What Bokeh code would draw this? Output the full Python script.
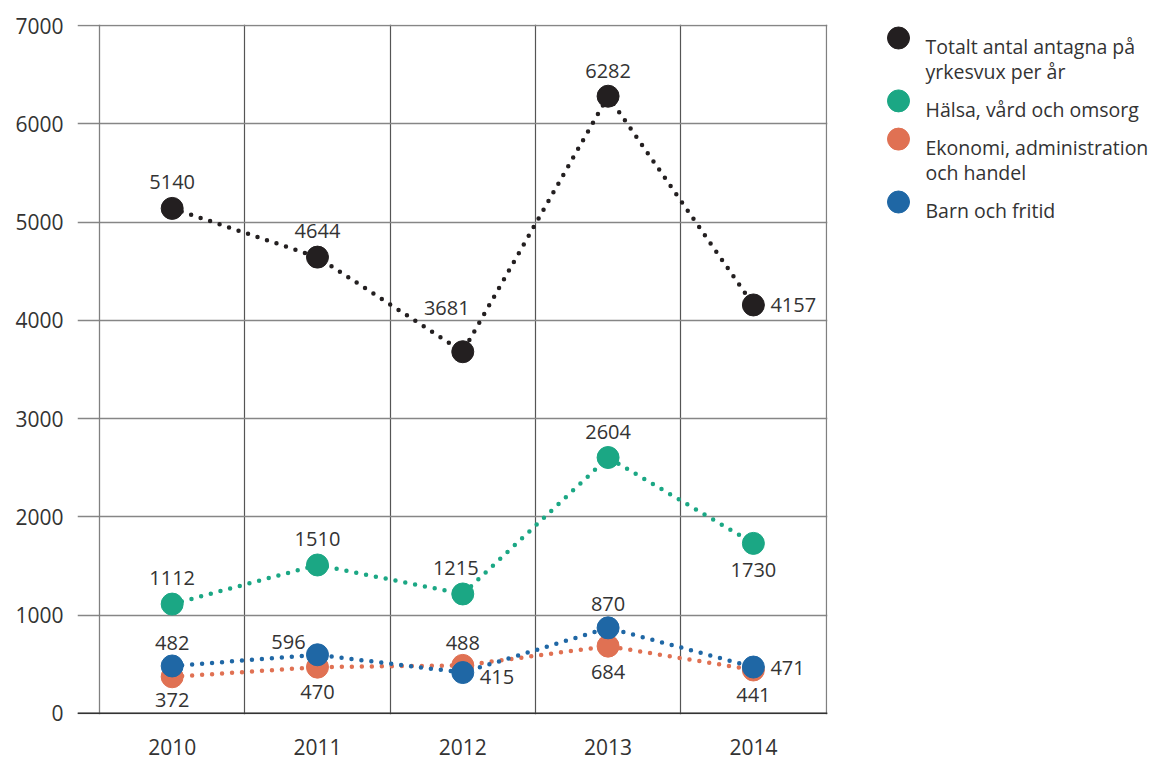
from bokeh.plotting import figure
from bokeh.models import Range1d, FixedTicker, Span, ColumnDataSource, Grid
from bokeh.layouts import row
from bokeh.embed import file_html
from bokeh.resources import INLINE
from bokeh.core.properties import value

# ---------------- data ----------------
years = ["2010", "2011", "2012", "2013", "2014"]
y_ticks = [0, 1000, 2000, 3000, 4000, 5000, 6000, 7000]

series_names = [
    "Totalt antal antagna på\nyrkesvux per år",
    "Hälsa, vård och omsorg",
    "Ekonomi, administration\noch handel",
    "Barn och fritid",
]
totalt = [5140, 4644, 3681, 6282, 4157]
halsa = [1112, 1510, 1215, 2604, 1730]
ekonomi = [372, 470, 488, 684, 441]
barn = [482, 596, 415, 870, 471]

# ---------------- styles ----------------
colors = ["#231f20", "#1ba784", "#e07153", "#1f67a5"]
FONT = "Open Sans"
TXT = "#333333"
# label placement per point (dx, dy in px, align); not data
label_pos = [
    [(0, -26, "center"), (0, -26, "center"), (-16, -44, "center"), (0, -25, "center"), (17, 0, "left")],
    [(0, -26, "center"), (0, -26, "center"), (-7, -26, "center"), (0, -26, "center"), (0, 27, "center")],
    [(0, 23, "center"), (0, 25, "center"), (0, -22, "center"), (0, 26, "center"), (0, 25, "center")],
    [(0, -23, "center"), (-29, -13, "center"), (17, 4, "left"), (0, -24, "center"), (17, 1, "left")],
]

xs = [i + 0.5 for i in range(len(years))]
all_series = [totalt, halsa, ekonomi, barn]

TOP, BOTTOM, H = 24, 46, 760

p = figure(width=832, height=H, title=None,
           x_range=Range1d(-0.1515, 5.01), y_range=Range1d(-12, 7012),
           output_backend="svg", toolbar_location=None,
           min_border_left=77, min_border_right=5, min_border_top=TOP, min_border_bottom=BOTTOM)
p.outline_line_color = None
p.background_fill_color = "white"
p.border_fill_color = "white"

p.xaxis.ticker = FixedTicker(ticks=xs)
p.xaxis.major_label_overrides = {x: y for x, y in zip(xs, years)}
p.yaxis.ticker = FixedTicker(ticks=y_ticks)
for ax in (p.xaxis[0], p.yaxis[0]):
    ax.axis_line_color = None
    ax.major_tick_line_color = None
    ax.minor_tick_line_color = None
    ax.major_tick_out = 0
    ax.major_tick_in = 0
    ax.minor_tick_out = 0
    ax.major_label_text_font = FONT
    ax.major_label_text_font_size = "21px"
    ax.major_label_text_color = TXT
p.xaxis.major_label_standoff = 24
p.yaxis.major_label_standoff = 14

# inner category separators darker, frame edges and horizontal lines lighter
p.xgrid.ticker = FixedTicker(ticks=list(range(1, len(years))))
p.xgrid.grid_line_color = "#555555"
p.xgrid.grid_line_width = 1.2
p.add_layout(Grid(dimension=0, ticker=FixedTicker(ticks=[0, len(years)]),
                  grid_line_color="#808080", grid_line_width=1.3))
p.ygrid.ticker = FixedTicker(ticks=y_ticks)
p.ygrid.grid_line_color = "#868686"
p.ygrid.grid_line_width = 1.3
p.add_layout(Span(location=0, dimension="width", line_color="#333333", line_width=1.6))

for vals, c in zip(all_series, colors):
    p.line(xs, vals, line_color=c, line_width=4.5, line_dash="0 10", line_cap="round")

for vals, c, pos in zip(all_series, colors, label_pos):
    p.scatter(xs, vals, size=22, fill_color=c, line_color=c)
    src = ColumnDataSource(dict(
        x=xs, y=vals, t=[str(v) for v in vals],
        dx=[q[0] for q in pos], dy=[q[1] for q in pos], al=[q[2] for q in pos]))
    p.text("x", "y", text="t", source=src, x_offset="dx", y_offset="dy",
           text_align="al", text_baseline="middle",
           text_font=value(FONT), text_font_size="20px", text_color=TXT)

# ---------------- legend panel (y in page pixels from top) ----------------
LW = 317
leg = figure(width=LW, height=H, title=None,
             x_range=Range1d(0, LW), y_range=Range1d(H - BOTTOM, TOP),
             output_backend="svg", toolbar_location=None,
             x_axis_type=None, y_axis_type=None,
             min_border_left=0, min_border_right=0,
             min_border_top=TOP, min_border_bottom=BOTTOM)
leg.outline_line_color = None
leg.grid.visible = False
leg.border_fill_color = "white"

line_h = 24.7
gap = 13.5
base = 46
cx, cy, tx, ty, tt = [], [], [], [], []
for name in series_names:
    lines = name.split("\n")
    cx.append(66)
    cy.append(base - 8.5)
    for k, ln in enumerate(lines):
        tx.append(93)
        ty.append(base + k * line_h)
        tt.append(ln)
    base += len(lines) * line_h + gap
leg.scatter(cx, cy, size=22, fill_color=colors, line_color=colors)
leg.text(tx, ty, text=tt, text_align="left", text_baseline="alphabetic",
         text_font=value(FONT), text_font_size="19.5px", text_color=TXT)

layout = row(p, leg)
open("out.html", "w").write(file_html(layout, INLINE))
